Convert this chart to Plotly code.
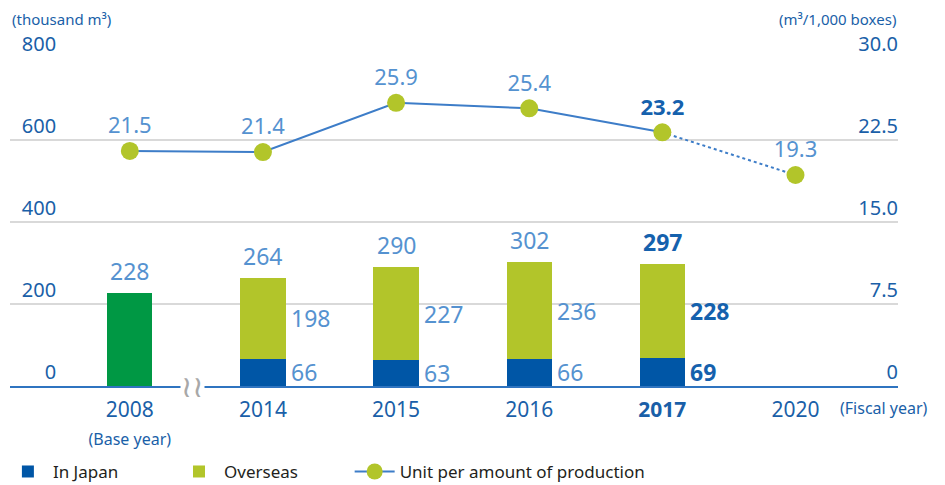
import plotly.graph_objects as go

years = ["2008", "2014", "2015", "2016", "2017", "2020"]
base_year_total = [228]
japan = [66, 63, 66, 69]
overseas = [198, 227, 236, 228]
unit = [21.5, 21.4, 25.9, 25.4, 23.2, 19.3]

FONT = "Noto Sans"
BLUE = "#0056a6"
GREEN = "#b2c52a"
BASE = "#009844"
LINE = "#3d7dc8"
LIGHT_TXT = "#5592d0"
DARK_TXT = "#1561ad"
TICK_TXT = "#1a5fa8"

xs = list(range(len(years)))
bar_x = xs[1:5]
totals = [j + o for j, o in zip(japan, overseas)]
BW = 0.34

fig = go.Figure()

fig.add_trace(go.Bar(
    x=[0], y=base_year_total, width=BW,
    marker=dict(color=BASE, line=dict(width=0)),
    showlegend=False
))
fig.add_trace(go.Bar(
    x=bar_x, y=japan, width=BW, name="In Japan", legend="legend",
    marker=dict(color=BLUE, line=dict(width=0))
))
fig.add_trace(go.Bar(
    x=bar_x, y=overseas, width=BW, name="Overseas", legend="legend2",
    marker=dict(color=GREEN, line=dict(width=0))
))

# unit line, solid for actuals, dotted to the 2020 target
unit_txt = [str(v) for v in unit]
unit_txt[4] = "<b>" + unit_txt[4] + "</b>"
fig.add_trace(go.Scatter(
    x=[4, 5], y=unit[4:], yaxis="y2", mode="lines",
    line=dict(color=LINE, width=2, dash="dot"),
    showlegend=False
))
fig.add_trace(go.Scatter(
    x=xs[:5], y=unit[:5], yaxis="y2", mode="lines+markers+text",
    name="Unit per amount of production", legend="legend3",
    line=dict(color=LINE, width=2),
    marker=dict(color=GREEN, size=18),
    text=unit_txt[:5], textposition="top center",
    textfont=dict(family=FONT, size=22,
                  color=[LIGHT_TXT] * 4 + [DARK_TXT])
))
fig.add_trace(go.Scatter(
    x=[5], y=unit[5:], yaxis="y2", mode="markers+text",
    marker=dict(color=GREEN, size=18),
    text=unit_txt[5:], textposition="top center",
    textfont=dict(family=FONT, size=22, color=LIGHT_TXT),
    showlegend=False
))

ann = []
# totals above bars
all_tot = base_year_total + totals
for i, t in enumerate(all_tot):
    bold = i == 4
    ann.append(dict(
        x=i, y=t, xref="x", yref="y", yanchor="bottom", yshift=4,
        text=f"<b>{t}</b>" if bold else str(t), showarrow=False,
        font=dict(family=FONT, size=23, color=DARK_TXT if bold else LIGHT_TXT)
    ))
# segment labels right of bars
for k, x in enumerate(bar_x):
    bold = x == 4
    for val, ymid in ((japan[k], japan[k] / 2),
                      (overseas[k], japan[k] + overseas[k] / 2)):
        ann.append(dict(
            x=x + BW / 2, y=ymid, xref="x", yref="y",
            xanchor="left", yanchor="middle", xshift=3,
            text=f"<b>{val}</b>" if bold else str(val), showarrow=False,
            font=dict(family=FONT, size=23, color=DARK_TXT if bold else LIGHT_TXT)
        ))

ann.append(dict(x=0, y=1.12, xref="paper", yref="paper", xanchor="left",
                yanchor="middle", text="(thousand m³)", showarrow=False,
                font=dict(family=FONT, size=15, color=TICK_TXT)))
ann.append(dict(x=1, y=1.12, xref="paper", yref="paper", xanchor="right",
                yanchor="middle", text="(m³/1,000 boxes)", showarrow=False,
                font=dict(family=FONT, size=15, color=TICK_TXT)))
ann.append(dict(x=1, y=-0.067, xref="paper", yref="paper", xanchor="left",
                xshift=-60, yanchor="middle", text="(Fiscal year)",
                showarrow=False, font=dict(family=FONT, size=16, color=TICK_TXT)))
# axis break mark
ann.append(dict(x=0.5, y=0, xref="x", yref="y", xshift=-4, text="≀≀",
                showarrow=False, bgcolor="white", borderpad=0,
                font=dict(family="DejaVu Sans", size=30, color="#a8a8a8")))

tick_text = ["2008<br><span style='font-size:16px'>(Base year)</span>",
             "2014", "2015", "2016", "<b>2017</b>", "2020"]

leg = dict(orientation="h", xanchor="left", y=-0.262, yanchor="middle",
           font=dict(family=FONT, size=17, color="#231f20"), itemwidth=40)

fig.update_layout(
    width=937, height=477,
    margin=dict(l=2, r=47, t=50, b=99, autoexpand=False),
    plot_bgcolor="white", paper_bgcolor="white",
    barmode="stack",
    font=dict(family=FONT, color=TICK_TXT),
    xaxis=dict(
        range=[-0.9, 5.77], tickvals=xs, ticktext=tick_text,
        tickfont=dict(size=21, color=TICK_TXT),
        showgrid=False, zeroline=False, ticks="",
        showline=True, linecolor="#2f74c0", linewidth=2,
        ticklabelstandoff=4, automargin=False
    ),
    yaxis=dict(
        range=[0, 800], tickvals=[0, 200, 400, 600, 800],
        anchor="free", position=0.052, side="left",
        ticklabelposition="outside top",
        tickfont=dict(size=20, color=TICK_TXT),
        showgrid=True, gridcolor="#d9d9d9", gridwidth=1.5,
        zeroline=False, showline=False, ticks="", automargin=False
    ),
    yaxis2=dict(
        range=[0, 30], tickvals=[0, 7.5, 15, 22.5, 30],
        ticktext=["0", "7.5", "15.0", "22.5", "30.0"],
        overlaying="y", anchor="free", position=1.0, side="left",
        ticklabelposition="outside top",
        tickfont=dict(size=20, color=TICK_TXT),
        showgrid=False, zeroline=False, showline=False, ticks="",
        automargin=False
    ),
    legend=dict(leg, x=-0.008),
    legend2=dict(leg, x=0.1847),
    legend3=dict(leg, x=0.3825),
    annotations=ann
)

fig.write_html("out.html")
